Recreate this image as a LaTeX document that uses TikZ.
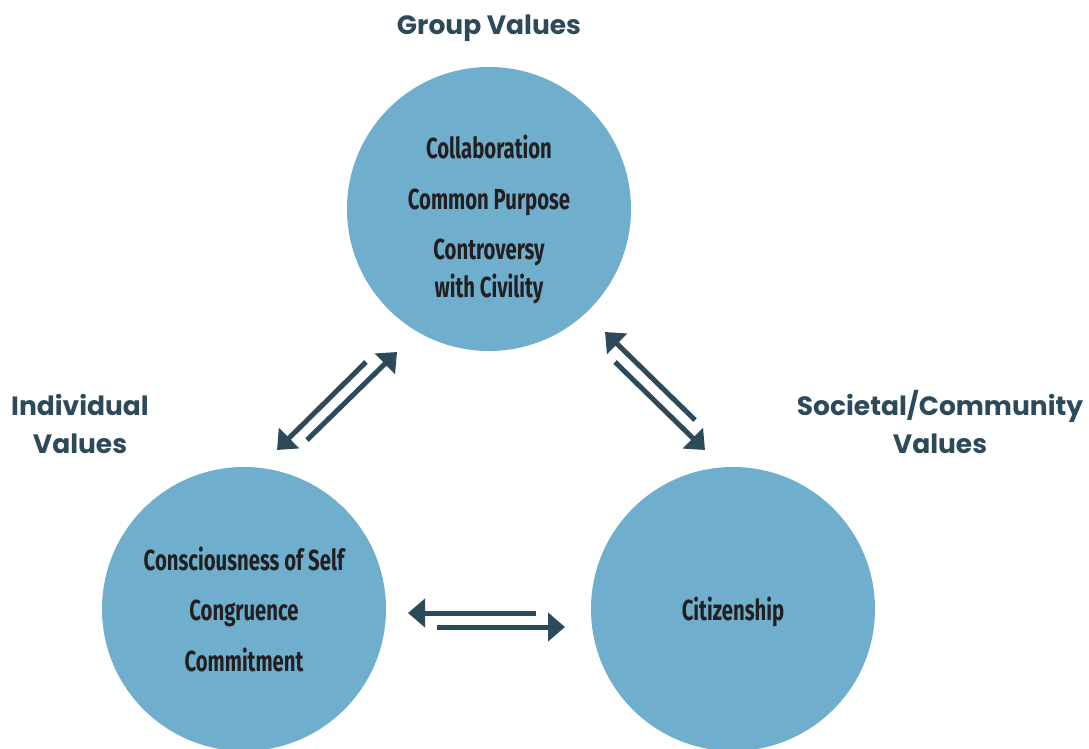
\documentclass[tikz,border=0pt]{standalone}
\usepackage{fontspec}
\usetikzlibrary{arrows.meta}
\newfontfamily\headfont{Poppins}[UprightFont=* Bold]
\newfontfamily\condfont{Fira Sans}[UprightFont=* Bold, FakeStretch=0.70]
\definecolor{circ}{HTML}{6FAFCD}
\definecolor{dark}{HTML}{2D4A5A}
\definecolor{ink}{HTML}{231F20}
\tikzset{
  valcircle/.style={circle, fill=circ, minimum size=284pt, inner sep=0pt},
  ctext/.style={font=\condfont\fontsize{29}{38}\selectfont, text=ink, align=center, inner sep=0pt, anchor=base},
  heading/.style={font=\headfont\fontsize{26.5}{38}\selectfont, text=dark, align=center, inner sep=0pt},
  flow/.style={draw=dark, line width=5pt, -{Triangle[length=17pt, width=28pt]}},
}
\begin{document}
\begin{tikzpicture}[x=1pt, y=-1pt]
\useasboundingbox (0,0) rectangle (1089,748);
\clip (0,0) rectangle (1089,748);
\node[valcircle] (group) at (489,209) {};
\node[valcircle] (indiv) at (244,609) {};
\node[valcircle] (soc) at (733,609) {};
% texts (baselines)
\node[ctext] (t1) at (489,158) {Collaboration};
\node[ctext] (t2) at (489,209) {Common Purpose};
\node[ctext] (t3) at (489,259) {Controversy};
\node[ctext] (t3b) at (489,297) {with Civility};
\node[ctext] (t4) at (244,570) {Consciousness of Self};
\node[ctext] (t5) at (244,620) {Congruence};
\node[ctext] (t6) at (244,671) {Commitment};
\node[ctext] (t7) at (733,620) {Citizenship};
% headings
\node[heading] (hg) at (489,28) {Group Values};
\node[heading] (hi) at (80,424) {Individual\\Values};
\node[heading] (hs) at (940,422) {Societal/Community\\Values};
% arrow coordinates
\coordinate (a1s) at (307,440); \coordinate (a1e) at (397,352);
\coordinate (a2s) at (366,362); \coordinate (a2e) at (277,450);
\coordinate (b1s) at (695,420); \coordinate (b1e) at (605,332);
\coordinate (b2s) at (615,362); \coordinate (b2e) at (705,450);
\coordinate (c1s) at (536,613); \coordinate (c1e) at (408,613);
\coordinate (c2s) at (437,627); \coordinate (c2e) at (565,627);
\draw[flow] (a1s) -- (a1e);
\draw[flow] (a2s) -- (a2e);
\draw[flow] (b1s) -- (b1e);
\draw[flow] (b2s) -- (b2e);
\draw[flow] (c1s) -- (c1e);
\draw[flow] (c2s) -- (c2e);
\end{tikzpicture}
\end{document}
